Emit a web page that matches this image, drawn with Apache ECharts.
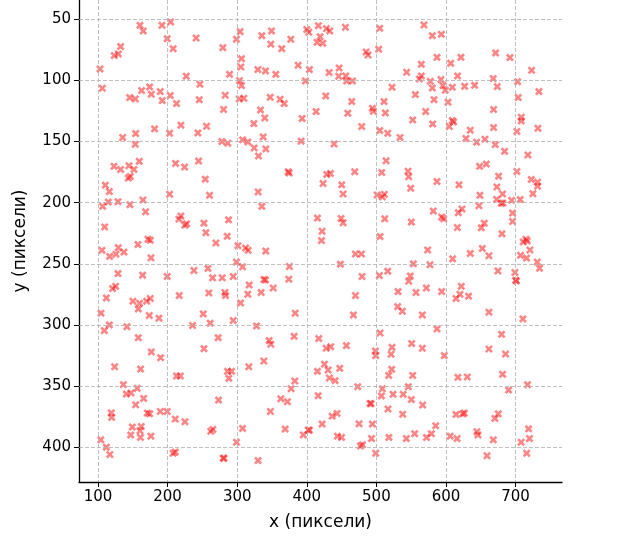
<!DOCTYPE html>
<html><head><meta charset="utf-8">
<script src="https://cdn.jsdelivr.net/npm/echarts@6/dist/echarts.min.js"></script>
<style>html,body{margin:0;padding:0;background:#fff}#c{width:624px;height:550px}</style>
</head><body><div id="c"></div>
<script>
const xTicks = [100, 200, 300, 400, 500, 600, 700];
const yTicks = [50, 100, 150, 200, 250, 300, 350, 400];
const xLabel = 'x (пиксели)';
const yLabel = 'y (пиксели)';

// upper band (y < 155)
const pointsTop = [
[160.3,54.9],[165,59.5],[191.9,54.9],[204.3,52.2],[199.5,65.8],[208,74],[241,65.3],[279.4,73.2],[299,66.3],[304.3,60.1],[132.5,72.3],[123.4,79.7],[129.2,78.3],[102.9,90.6],[306.2,82.2],[305.3,89],[289,95],[226.8,96.6],[246.4,103.1],[106.2,106.4],[303.3,100.1],[306.2,104.2],[162.7,108.3],[174.2,105.3],[176.6,111.3],[189.5,109.1],[192.3,116.5],[203.8,112.4],[212.9,118.9],[145.5,114],[153.6,115.1],[245.5,115.7],[282.8,112.1],[302.9,115.1],[309.6,114.6],[280.4,123.8],[135.4,146.7],[154.1,143.5],[181.3,139.6],[202.9,143.2],[219.1,136.6],[243.5,142.9],[256,137.5],[278,150],[286.6,151.4],[153.6,152.2],[307.7,148.6],[315.3,150.3],
[335.4,63.4],[349.3,59.5],[348.3,70.4],[364.1,74],[377,66.3],[400,58.4],[402.9,60.6],[416.7,55.2],[428.2,57.6],[433,59.5],[419.1,64.2],[414.8,68.8],[423,69.6],[455.5,56.5],[485.2,76.7],[488,79.2],[504.8,57.4],[503.3,74.5],[329.7,91.1],[340.7,92.2],[355.5,95],[387.6,87.6],[403.8,91.1],[398.1,100.4],[432.1,93.6],[446.4,89.8],[445.9,96.6],[456,96.3],[457.4,100.4],[465.6,100.4],[543.5,93.3],[561.7,98.8],[522.5,105.6],[556,111.6],[347.4,113.8],[361.7,115.4],[367.5,118.9],[333.5,124.1],[339.7,130.7],[323.9,135.3],[337.3,146.2],[391.9,149.7],[439.2,151.9],[427.3,112.7],[464.6,117.3],[458.9,126.8],[413.4,125.5],[393.3,131.2],[494.3,122.8],[495.7,125.2],[511,117.3],[512.9,126.6],[478.9,137.7],[504.8,141],[516.3,143.2],[534,146.7],[552.2,132.3],
[568.4,54.6],[580.4,63.4],[593.3,62.3],[587.1,81.1],[564.6,86.8],[606.7,86],[621.5,81.1],[671.3,77.5],[691.9,81.3],[723,91.7],[564.6,96.3],[577.5,100.7],[592.8,99.3],[616.7,96.3],[667.9,98.5],[702.9,101],[580.4,106.1],[595.7,104.2],[599,108],[609.1,105.6],[626.8,104.8],[641.1,104],[673.7,105],[733.5,109.1],[582.8,115.7],[602.9,117.8],[703.8,114],[570.8,125.5],[668.4,123.8],[580.9,135.6],[609.1,132.8],[611,133.9],[604.8,137.7],[634.9,140.7],[668.4,138.6],[708.1,130.1],[708.1,133.1],[732.1,139.1],[701.9,141.8],[628.7,147.5],[644,150.5],[656,148.1],[670.8,152.5]
];

// middle band (155 <= y < 270)
const pointsMiddle = [
[159.3,166.2],[123,170.3],[132.5,172.8],[144.5,169.8],[151.7,172.8],[143.5,179.9],[146.4,178.6],[110.5,185.7],[116.3,190.9],[106.7,203],[114.8,199.5],[128.7,199.2],[145.9,201.6],[164.6,197.8],[168.4,207.4],[109.6,219.8],[211.5,167.9],[224.4,170.9],[244.5,166],[254.1,180.8],[260.3,194],[202.9,193.1],[216.3,213.5],[219.1,211],[224.9,218.4],[227.3,217.3],[252.2,216.8],[255,224.5],[287.6,214],[285.6,227.5],[269.4,233],[301,235.2],[312,237.1],[315.8,239],[105.7,239],[116.7,244],[125.8,242.1],[129.2,236.8],[137.3,240.4],[157.4,234.3],[171.8,229.9],[175.1,230.8],[176.1,245.1],[299,248.6],[307.7,252.5],[237.8,255.5],[257.9,253.8],[264.6,261.5],[278.5,261.5],[294.3,260.4],[128.7,258],[164.1,259.3],[199.5,260.4],[125.4,268.4],[121,270.3],[317.2,267.3],
[324.4,155.2],[341.1,156],[330.6,161.8],[373.2,174.7],[374.6,175.8],[330.1,191.2],[335.4,203],[428.7,176.9],[434,176.1],[423.4,184.3],[450.2,185.4],[452.2,192.9],[468.9,174.7],[513.9,165.7],[507.7,175.3],[545.5,174.2],[546.4,178.8],[549.3,188.2],[501,193.7],[511.5,193.1],[508.6,195.3],[415.3,212.6],[449.3,212.9],[452.2,216.5],[422,223.4],[421.1,231],[512,213.2],[550.2,215.9],[505.3,227.7],[341.1,239.6],[469.9,242],[478.5,242],[448.3,250.3],[553.1,250],[375.1,252.2],[374.2,262.6],[338.3,262.9],[340.7,263.2],[351.7,269.8],[479.4,260.4],[504.3,259.6],[516.3,256],[548.8,259.9],[546.4,264.3],
[684.2,158],[717.7,161],[648.3,170.3],[657.9,168.4],[675.6,178.3],[701.9,174.5],[587.1,182.7],[618.7,185.4],[673.2,187.1],[648.8,194],[681.3,192.9],[672.7,197.3],[679.4,200.5],[681.8,200.3],[694.3,198.1],[706.7,197.5],[647.4,202.5],[722.5,181],[731.6,183.2],[731.6,186.5],[724.9,192.6],[581.8,206.9],[593.8,211.8],[596.7,213.2],[617.7,208.2],[623,205.2],[695.7,208.5],[695.7,215.4],[616.3,220.3],[650.7,220.6],[655,216.8],[680.4,225.5],[711,232.1],[714.8,229.9],[716.7,231.3],[720.6,238.7],[573.7,238.7],[634.9,241.5],[652.2,237.4],[661.7,243.4],[609.6,245.9],[707.2,243.1],[715.8,245.3],[731.1,248.6],[734.4,253.6],[577,250.8],[674.6,255.8],[699,257.1],[700,263.5],[701.4,264],[571.8,269.8],[622,268.4]
];

// lower band (y >= 270)
const pointsBottom = [
[112,277.9],[104.3,290.4],[150.2,280.6],[159.8,282.2],[157.9,286.9],[169.9,280.6],[175.1,278.4],[173.7,292.3],[187.6,294.5],[116.3,300],[109.1,304.6],[141.6,301.4],[157.9,310.4],[176.6,322.1],[190,326.8],[123.9,334.2],[161.2,336.1],[216.7,276],[259.3,273.8],[282.3,273.5],[283.3,276],[304.8,282],[315.3,274.9],[251.2,291],[261.2,298.6],[294.3,296.4],[235.9,300.5],[272.7,310.4],[252.2,319.4],[212.9,341.8],[218.2,341.8],[286.1,338],[291.9,338],[288,343.7],[316.7,334.2],[136.4,348.9],[140.7,356.6],[147.4,355.7],[156.5,351.9],[165.6,360.1],[154.1,365.3],[119.1,371.9],[119.6,375.7],[170.8,372.1],[174.2,372.7],[189.5,370.8],[199.5,370.8],[211,377],[224.9,379.2],[273.2,361.5],[149.3,383.6],[162.2,383.1],[265.1,385.5],[307.7,384.7],[160.3,386.6],
[334.4,273.5],[383.3,290.4],[327.8,300.8],[345.9,312.8],[348.3,315.8],[381.8,309.3],[338.3,329.5],[382.8,345.9],[377.5,352.2],[362.7,360.4],[372.2,362.8],[347.8,370.8],[368.9,385.2],[469.9,276],[467,291.8],[417.2,311.2],[427.8,319.1],[434.4,317.8],[456.9,316.9],[425.4,332.2],[430.6,336.9],[415.3,338],[447.4,335.5],[432.5,343.4],[440.7,345.6],[473.2,350.5],[416.3,357.9],[436.4,374.6],[443.5,372.4],[422,381.1],[475.1,380.9],[494.3,381.1],[403.8,386.1],[490.9,364.2],[492.3,364.5],[531.1,272.7],[556.9,273.5],[530.6,285],[537.3,288.8],[505.3,306.6],[522.5,318.3],[550.7,315.3],[498.6,321.3],[499,325.1],[521.1,324],[522,336.3],[517.7,341.3],[552.2,341.3],[508.6,352.2],[545.9,350.5],[507.2,358.1],[523.9,356.8],[538.5,356.8],[550.2,361.1],[516.7,368.8],[537.8,373.1],
[593.8,272.7],[620.1,274.9],[614.4,278.4],[632.5,276.5],[566,291.8],[661.7,289.6],[710.5,295.1],[587.1,303.3],[679.9,307.7],[566,319.1],[597.6,325.1],[661.7,319.7],[685.6,323.8],[617.2,342.9],[630.6,342.6],[681.3,340.4],[717.2,348.9],[690,353.3],[566.5,365.6],[614.4,373.2],[624,372.7],[626.3,372.1],[675.1,372.7],[670.3,376.5],[585.2,382.5],[644.5,387.4],[718.7,385]
];

// bottom edge strip (y > 388)
const pointsEdge = [
[104,394],[112,400],[117,406],[147,390],[161,392],[176,391],[208,405],[211,404],[262,387],[280,409],[281,409],[299,396],[330,411],[395,390],[402,386],[444,391],[450,392],[477,399],[480,398],[493,393],[499,405],[518,392],[543,393],[555,389],[572,392],[579,389],[606,391],[616,393],[646,390],[659,407],[668,394],[708,396],[716,405],[720,393]
];

const points = pointsTop.concat(pointsMiddle, pointsBottom, pointsEdge);

const font = 'DejaVu Sans';
const gridLines = xTicks.map(v => ({ xAxis: v })).concat(yTicks.map(v => ({ yAxis: v })));
const xMark = 'path://M2.3,0 L5,2.7 L7.7,0 L10,2.3 L7.3,5 L10,7.7 L7.7,10 L5,7.3 L2.3,10 L0,7.7 L2.7,5 L0,2.3 Z';

const chart = echarts.init(document.getElementById('c'), null, { renderer: 'canvas' });
chart.setOption({
  animation: false,
  grid: { left: 79, right: 62, top: 0, bottom: 68 },
  xAxis: {
    type: 'value', min: 72.7, max: 766.7,
    name: xLabel, nameLocation: 'middle', nameGap: 32,
    nameTextStyle: { fontFamily: font, fontSize: 17, color: '#000' },
    axisLine: { show: true, onZero: false, lineStyle: { color: '#000', width: 1.3 } },
    axisTick: { show: true, customValues: xTicks, length: 5, lineStyle: { color: '#000', width: 1 } },
    axisLabel: { customValues: xTicks, fontFamily: font, fontSize: 15, color: '#000', margin: 8 },
    splitLine: { show: false }
  },
  yAxis: {
    type: 'value', inverse: true, min: 34.2, max: 428.5,
    name: yLabel, nameLocation: 'middle', nameGap: 50, nameRotate: 90,
    nameTextStyle: { fontFamily: font, fontSize: 17, color: '#000' },
    axisLine: { show: true, onZero: false, lineStyle: { color: '#000', width: 1.3 } },
    axisTick: { show: true, customValues: yTicks, length: 5, lineStyle: { color: '#000', width: 1 } },
    axisLabel: { customValues: yTicks, fontFamily: font, fontSize: 15, color: '#000', margin: 8 },
    splitLine: { show: false }
  },
  series: [
    {
      type: 'line', data: [], z: 1, silent: true,
      markLine: {
        silent: true, symbol: 'none', animation: false,
        label: { show: false },
        lineStyle: { color: '#b0b0b0', type: [4, 2], width: 0.8 },
        data: gridLines
      }
    },
    {
      type: 'scatter', data: points, z: 3,
      symbol: xMark, symbolSize: 8,
      itemStyle: { color: 'rgba(255,0,0,0.6)' }
    }
  ]
});
</script>
</body></html>
